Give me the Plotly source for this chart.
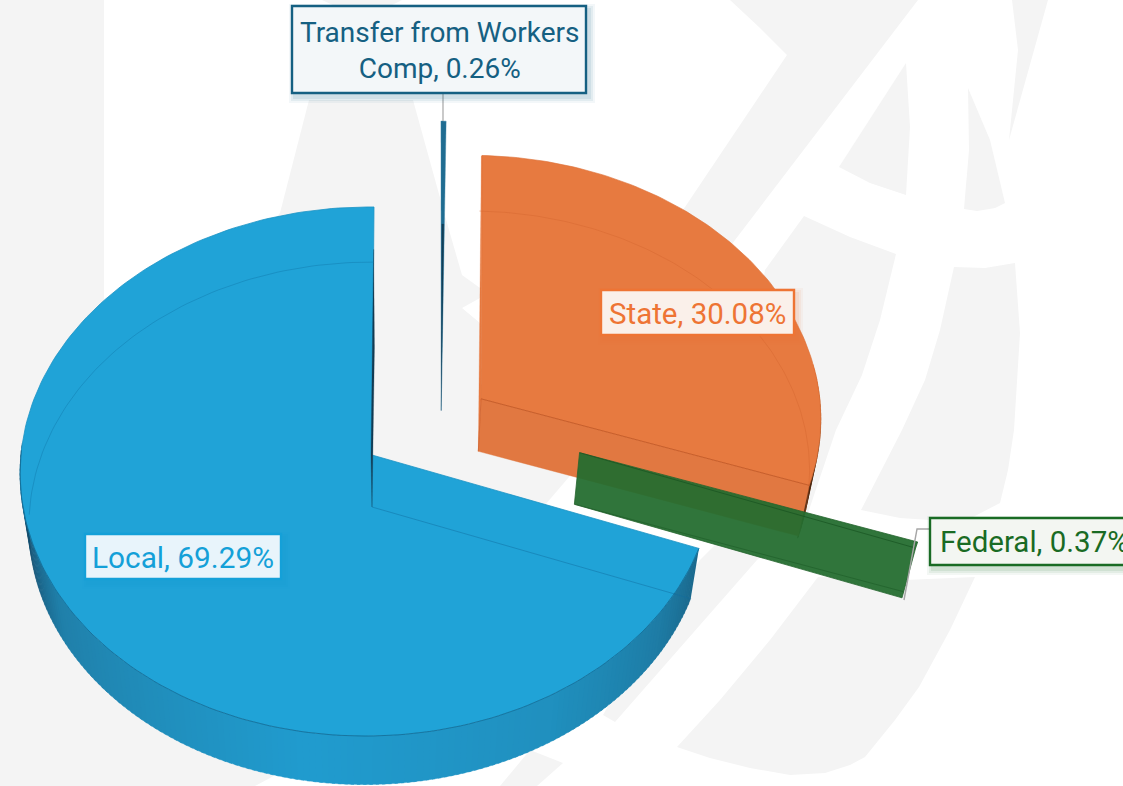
import numpy as np
import plotly.graph_objects as go

# ---- data ----
CATEGORIES = ["Transfer from Workers Comp", "State", "Federal", "Local"]
VALUES = [0.26, 30.08, 0.37, 69.29]
LABEL_TEXT = ["Transfer from Workers<br>Comp, 0.26%", "State, 30.08%", "Federal, 0.37%", "Local, 69.29%"]

# ---- styles ----
FACE = ["#1f6c91", "#e77a40", "#2b7135", "#20a3d7"]
THEME = ["#156082", "#ee7434", "#196b24", "#14a0d8"]
LABEL_BG = ["#f3f7f9", "#faf0ea", "#f3f6f2", "#e8f4fb"]
FONT = "Roboto"
FONT_SIZES = [28.0, 29.5, 29.5, 29.8]
GREY = "#f4f4f4"

# pie projection
X0, Y0, BX, AY, KV, MU, SKEW, DEPTH, SHRINK = 372, 455, 346.5, 263.5, 0.0624, -0.013, -2, 52, 0.025
PULL = [(0.208, -0.38), (0.319, -0.217), (0.604, -0.009), (0.0, 0.0)]
RADIUS = [1.0, 1.012, 1.03, 1.0]

def proj(u, v, z):
    u, v = np.asarray(u, float), np.asarray(v, float)
    w = 1 - KV * v - MU * u
    s = 1 - SHRINK * z
    return X0 + BX * s * u / w + SKEW * v, Y0 + (AY * s * v + DEPTH * z) / w

def arc(t0, t1, z, pull, n=80, r=1.0):
    t = np.radians(np.linspace(t0, t1, n))
    return proj(r * np.sin(t) + pull[0], -r * np.cos(t) + pull[1], z)

def apex(z, pull):
    return proj(pull[0], pull[1], z)

fig = go.Figure()

def poly(x, y, color, line=None, width=0.6):
    fig.add_trace(go.Scatter(x=list(x), y=list(y), mode="lines", fill="toself", fillcolor=color,
                             line=dict(color=line or color, width=width), hoverinfo="skip", showlegend=False))

def stroke(x, y, color, width=1.0):
    fig.add_trace(go.Scatter(x=list(x), y=list(y), mode="lines", line=dict(color=color, width=width),
                             hoverinfo="skip", showlegend=False))

def cat(*parts):
    return np.concatenate(parts)

def wall(t0, t1, pull, stops, colors, step=1.0, r=1.0):
    """outer rim, shaded along the angle"""
    rgb = np.array([[int(c[i:i + 2], 16) for i in (1, 3, 5)] for c in colors], float)
    edges = np.arange(t0, t1 + step, step)
    edges[-1] = t1
    for a, b in zip(edges[:-1], edges[1:]):
        if b <= a:
            continue
        m = (a + b) / 2
        col = [np.interp(m, stops, rgb[:, i]) for i in range(3)]
        xt, yt = arc(a, b + 0.5, 0, pull, 4, r)
        xb, yb = arc(a, b + 0.5, 1, pull, 4, r)
        poly(cat(xt, xb[::-1]), cat(yt, yb[::-1]), "rgb(%d,%d,%d)" % tuple(col), width=0.4)

# slice angles from the values, clockwise from twelve o'clock
edges = np.cumsum([0] + VALUES) / sum(VALUES) * 360
ang = {c: (edges[i], edges[i + 1]) for i, c in enumerate(CATEGORIES)}

# LOCAL
t0, t1 = ang["Local"]
p = PULL[3]
wall(t0, 272, p, [110, 125, 150, 190, 220, 240, 255, 265, 272],
     ["#1b688c", "#1e7ca5", "#2090bf", "#209ccf", "#218cb9", "#2080aa", "#1a5a7c", "#154a68", "#123f5a"])
xt, yt = arc(t0, t1, 0, p, 200)
ax, ay = apex(0, p)
poly(cat([ax], xt, [ax]), cat([ay], yt, [ay]), FACE[3], line="#1c93c4", width=0.8)
# dark radial sliver at twelve o'clock
sx, sy = proj([0, 0, 0], [-0.82, -0.42, 0], 0)
bx, by = apex(1, p)
poly([sx[0], sx[1] + 1.6, sx[2] + 0.8, bx, sx[2] - 1, sx[0]], [sy[0], sy[1], sy[2], by, sy[2], sy[0]], "#123b52", width=0.3)
# outline of the far base seen through the top
xb, yb = arc(t0, t1, 1, p, 200)
bax, bay = apex(1, p)
keep = (np.linspace(t0, t1, 200) > 268)
stroke(xb[keep], yb[keep], "rgba(16,120,170,0.55)", 0.8)
stroke([bax, xb[0]], [bay, yb[0]], "rgba(16,110,160,0.6)", 0.8)
stroke(xt[:-1][np.linspace(t0, t1, 199) < 272], yt[:-1][np.linspace(t0, t1, 199) < 272], "rgba(15,90,130,0.7)", 0.8)

# TRANSFER
t0, t1 = ang[CATEGORIES[0]]
p = PULL[0]
xt, yt = arc(t0, t1, 0, p, 6)
ax, ay = apex(0, p)
bx, by = apex(1, p)
poly(cat([bx], xt, [bx]), cat([by], yt, [by]), FACE[0], line="#3d83a6", width=0.4)
sx, sy = proj([p[0]], [p[1] - 0.55], 0)
poly([sx[0], sx[0] + 2, bx, sx[0]], [sy[0], sy[0], by, sy[0]], "#143f57", width=0.2)

# STATE
t0, t1 = ang["State"]
p = PULL[1]
r = RADIUS[1]
wall(82, t1, p, [82, 92, 100, 108], ["#e77a40", "#b05a28", "#6f3a18", "#3f2412"], step=1.0, r=r)
xt, yt = arc(t0, t1, 0, p, 120, r)
xb, yb = arc(t0, t1, 1, p, 120, r)
ax, ay = apex(0, p)
bax, bay = apex(1, p)
# radial wall towards the viewer
poly([ax, xt[-1], xb[-1], bax, ax], [ay, yt[-1], yb[-1], bay, ay], "#e17841", width=0.4)
poly(cat([ax], xt, [ax]), cat([ay], yt, [ay]), FACE[1], line="#dc6e35", width=0.6)
# back wall at the upper left
poly([ax, xt[0], xt[0] - 0.6, bax, ax], [ay, yt[0], yt[0] + 1, bay, ay], FACE[1], width=0.3)
stroke(xb, yb, "rgba(205,95,40,0.4)", 0.8)
stroke([ax, xt[-1]], [ay, yt[-1]], "rgba(190,85,35,0.85)", 0.9)
stroke([ax, bax], [ay, bay], "rgba(200,90,40,0.8)", 0.8)

# FEDERAL
t0, t1 = ang["Federal"]
p = PULL[2]
r = RADIUS[2]
xt, yt = arc(t0, t1, 0, p, 6, r)
xb, yb = arc(t0, t1, 1, p, 6, r)
ax, ay = apex(0, p)
bax, bay = apex(1, p)
poly(cat([ax], xt, [xb[-1]], [bax], [ax]), cat([ay], yt, [yb[-1]], [bay], [ay]),
     "rgba(35,108,47,0.94)", line="#24652d", width=0.8)
stroke([ax, xt[-1]], [ay, yt[-1]], "rgba(20,80,30,0.7)", 0.9)
stroke([bax, xb[0]], [bay, yb[0]], "rgba(20,80,30,0.5)", 0.8)

# ---- watermark, behind everything ----
WATERMARK = [
    [(0, 0), (104, 0), (104, 420), (280, 213), (309, 100), (413, 100), (447, 223), (462, 275), (480, 288),
     (480, 298), (462, 308), (480, 323), (560, 390), (685, 207), (787, 55), (760, 28), (730, 0), (918, 0), (735, 240),
     (575, 470), (545, 505), (500, 570), (400, 700), (270, 778), (255, 786), (0, 786)],
    [(322, 0), (402, 0), (390, 6), (335, 6)],
    [(804, 216), (850, 237), (896, 254), (880, 320), (862, 375), (836, 430), (808, 513), (757, 560), (615, 722), (603, 715),
     (640, 650), (700, 560), (720, 540), (765, 270)],
    [(839, 167), (906, 63), (910, 127), (906, 195), (870, 183)],
    [(964, 209), (969, 150), (968, 88), (990, 140), (1005, 203), (995, 208), (977, 211)],
    [(1012, 0), (1048, 0), (1009, 140), (1018, 50)],
    [(954, 267), (985, 268), (1015, 263), (1020, 333), (1014, 430), (1008, 470), (1000, 503), (973, 517), (945, 521), (900, 518),
     (861, 510), (902, 430), (925, 380), (940, 330)],
    [(818, 577), (905, 580), (975, 577), (950, 630), (919, 687), (895, 720), (865, 757), (850, 765), (825, 773), (790, 775),
     (750, 768), (710, 758), (677, 747), (720, 700), (770, 640)],
    [(530, 750), (563, 763), (537, 786), (500, 786)],
]
shapes = []
for pts in WATERMARK:
    path = "M " + " L ".join(f"{x},{y}" for x, y in pts) + " Z"
    shapes.append(dict(type="path", path=path, fillcolor=GREY, line=dict(width=0), layer="below"))

# ---- leader lines and labels ----
LEADER = "#a6a6a6"
stroke([443, 443], [93, 121], LEADER, 1.2)
stroke([930, 917, 904], [529, 529, 600], LEADER, 1.4)

BOX = [(292, 6, 586, 93), (601, 290, 794, 335), (930, 518, 1130, 565), (85, 534, 281, 579)]
TEXT_AT = [(439.5, 50), (697, 314), (1037, 542), (183, 557)]
ann = []
for i, (x0, y0, x1, y1) in enumerate(BOX):
    for g, a in ((6, 0.05), (4, 0.07), (2, 0.09)):
        shapes.append(dict(type="rect", x0=x0 + 3 - g, y0=y0 + 4 - g, x1=x1 + 3 + g, y1=y1 + 4 + g,
                           fillcolor=THEME[i], opacity=a, line=dict(width=0), layer="above"))
    shapes.append(dict(type="rect", x0=x0, y0=y0, x1=x1, y1=y1, fillcolor=LABEL_BG[i],
                       line=dict(color=THEME[i], width=2.4), layer="above"))
    ann.append(dict(x=TEXT_AT[i][0], y=TEXT_AT[i][1], text=LABEL_TEXT[i], showarrow=False,
                    font=dict(family=FONT, size=FONT_SIZES[i], color=THEME[i]), align="center",
                    xanchor="center", yanchor="middle"))
ann[2].update(x=938, xanchor="left")

axis = dict(visible=False, fixedrange=True)
fig.update_layout(width=1123, height=786, margin=dict(l=0, r=0, t=0, b=0), paper_bgcolor="white",
                  plot_bgcolor="white", showlegend=False, shapes=shapes, annotations=ann,
                  xaxis=dict(range=[0, 1123], **axis), yaxis=dict(range=[786, 0], **axis))
fig.write_html("out.html", config=dict(displayModeBar=False),
               post_script="document.body.style.margin='0';document.body.style.overflow='hidden';")
